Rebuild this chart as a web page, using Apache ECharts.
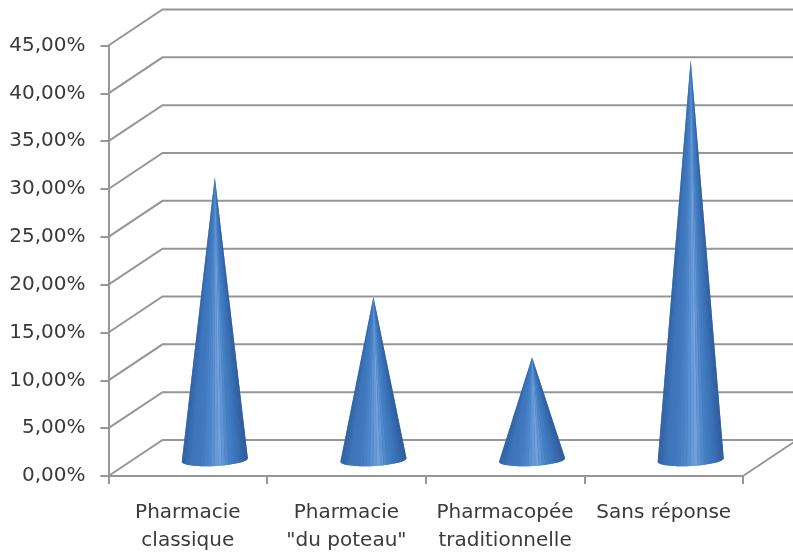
<!DOCTYPE html>
<html>
<head>
<meta charset="utf-8">
<script src="https://cdn.jsdelivr.net/npm/echarts@6/dist/echarts.min.js"></script>
<style>
html, body { margin: 0; padding: 0; background: #fff; }
#chart { width: 793px; height: 553px; }
</style>
</head>
<body>
<div id="chart"></div>
<script>
const categories = ["Pharmacie\nclassique", "Pharmacie\n\"du poteau\"", "Pharmacopée\ntraditionnelle", "Sans réponse"];
const values = [29.6, 17.1, 10.8, 41.9];
const wallTicks = [0, 5, 10, 15, 20, 25, 30, 35, 40, 45];

const lineColor = "#969696";
const textColor = "#3a3a3a";
// left to right shading of a cone
const coneShades = ["#2f5f9e", "#3d74ba", "#4079bf", "#4f87ca", "#72a2dc", "#4580c4", "#3a70b5", "#2b5896"];
// depth of the fake 3D box, px
const depthX = 54;
const depthY = -36;
const coneRx = 33;
const coneRy = 6;
const coneTilt = 1.7;

const myChart = echarts.init(document.getElementById("chart"), null, { renderer: "canvas" });

function renderWall(params, api) {
	const cs = params.coordSys;
	const y = api.coord([0, api.value(1)])[1];
	const children = [{
		type: "polyline",
		shape: { points: [[cs.x, y], [cs.x + depthX, y + depthY], [cs.x + cs.width + depthX, y + depthY]] },
		style: { stroke: lineColor, lineWidth: 2, fill: null },
	}];
	// right edge of the floor
	if (api.value(1) === 0) {
		children.push({
			type: "line",
			shape: { x1: cs.x + cs.width, y1: y, x2: cs.x + cs.width + depthX, y2: y + depthY },
			style: { stroke: lineColor, lineWidth: 2 },
		});
	}
	return { type: "group", children };
}

function renderCone(params, api) {
	const base = api.coord([api.value(0), 0]);
	const top = api.coord([api.value(0), api.value(1)]);
	const cx = base[0] + depthX / 2;
	const cy = base[1] + depthY / 2 + 2;
	const apex = [cx, top[1] + depthY / 2 + 2.5];
	const rim = (deg) => {
		const rad = (deg * Math.PI) / 180;
		return [cx + coneRx * Math.cos(rad), cy + coneRy * Math.sin(rad) - coneTilt * Math.cos(rad)];
	};
	// plain silhouette underneath so no white shows between the slices
	const outline = [apex];
	for (let a = 0; a <= 180; a += 6) outline.push(rim(a));
	const children = [{ type: "polygon", shape: { points: outline }, style: { fill: "#4079bf" } }];
	// fan of slices so the shading converges on the tip
	for (let a = 180; a > 0; a -= 6) {
		const p1 = rim(a);
		const p2 = rim(a - 6);
		const color = echarts.color.lerp(((p1[0] + p2[0]) / 2 - cx + coneRx) / (2 * coneRx), coneShades);
		children.push({
			type: "polygon",
			shape: { points: [apex, p1, p2] },
			style: { fill: color },
		});
	}
	return { type: "group", children };
}

const option = {
	animation: false,
	backgroundColor: "#fff",
	grid: { left: 108.5, top: 45.5, width: 634.5, height: 430.5, outerBoundsMode: "none" },
	xAxis: {
		type: "category",
		data: categories,
		boundaryGap: true,
		axisLine: { show: true, lineStyle: { color: lineColor, width: 2 } },
		axisTick: { show: true, alignWithLabel: false, length: 8, lineStyle: { color: lineColor, width: 2 } },
		axisLabel: {
			interval: 0,
			margin: 23,
			color: textColor,
			fontFamily: "DejaVu Sans",
			fontSize: 20,
			lineHeight: 28,
		},
	},
	yAxis: {
		type: "value",
		min: 0,
		max: 45,
		interval: 5,
		splitLine: { show: false },
		axisLine: { show: true, lineStyle: { color: lineColor, width: 2 } },
		axisTick: { show: true, length: 8, lineStyle: { color: lineColor, width: 2 } },
		axisLabel: {
			margin: 23,
			color: textColor,
			fontFamily: "DejaVu Sans",
			fontSize: 20,
			formatter: (v) => v.toFixed(2).replace(".", ",") + "%",
		},
	},
	series: [
		{
			type: "custom",
			z: 1,
			clip: false,
			silent: true,
			renderItem: renderWall,
			encode: { x: 0, y: 1 },
			data: wallTicks.map((t) => [0, t]),
		},
		{
			type: "custom",
			z: 3,
			clip: false,
			renderItem: renderCone,
			encode: { x: 0, y: 1 },
			data: values.map((v, i) => [i, v]),
		},
	],
};
myChart.setOption(option);
</script>
</body>
</html>
